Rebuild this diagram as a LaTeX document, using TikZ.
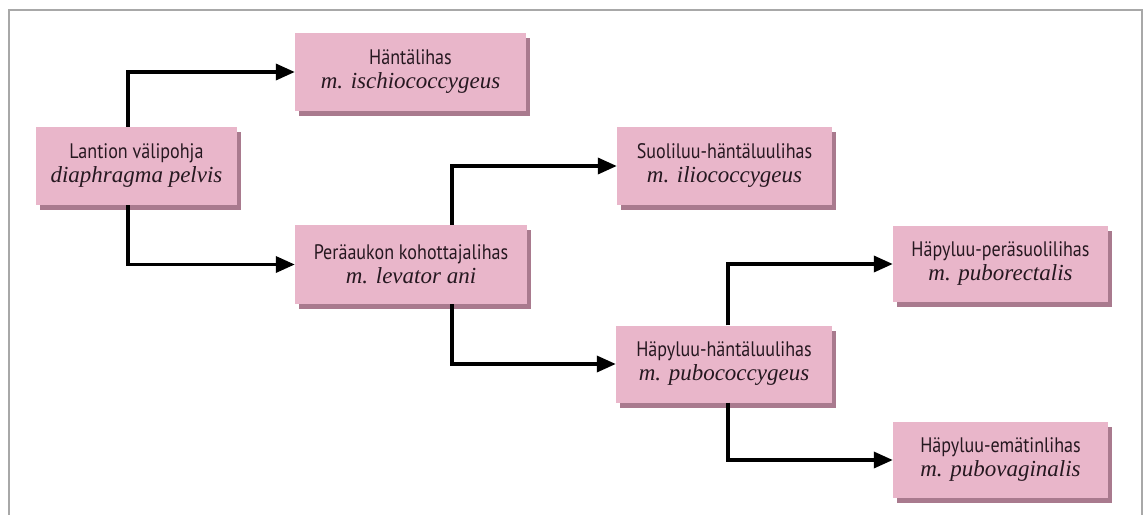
\documentclass[tikz,border=0pt]{standalone}
\usepackage{fontspec}
\usetikzlibrary{arrows.meta,shadows}
\newfontfamily\labsans[FakeStretch=0.86]{PT Sans}
\newfontfamily\labserif{Liberation Serif}
\definecolor{boxpink}{HTML}{E9B6CA}
\definecolor{boxshadow}{HTML}{A97A8E}
\definecolor{txtc}{HTML}{261820}
\definecolor{framec}{HTML}{A8A8A8}
\tikzset{
  musclebox/.style={draw=none, fill=boxpink, align=center, inner sep=0pt,
    text=txtc, font=\fontsize{21}{24}\selectfont,
    drop shadow={shadow xshift=4pt, shadow yshift=-5pt, fill=boxshadow, opacity=1}},
  conn/.style={line width=3.5pt, draw=black, -{Triangle[length=19pt,width=16pt]}}
}
\newcommand{\mlab}[2]{{\labsans #1}\\{\labserif\itshape\fontsize{23}{24}\selectfont #2}}
\begin{document}
\begin{tikzpicture}[x=1pt,y=-1pt]
\useasboundingbox (0,0) rectangle (1147,514);
\draw[framec, line width=1.5pt] (9,520) -- (9,10) -- (1142,10) -- (1142,520);
\node[musclebox, minimum width=231pt, minimum height=78pt] (hant) at (410.5,72) {\mlab{Häntälihas}{m. ischiococcygeus}};
\node[musclebox, minimum width=201pt, minimum height=78pt] (lant) at (136.5,166) {\mlab{Lantion välipohja}{diaphragma pelvis}};
\node[musclebox, minimum width=232pt, minimum height=79pt] (pera) at (411,264.5) {\mlab{Peräaukon kohottajalihas}{m. levator ani}};
\node[musclebox, minimum width=215pt, minimum height=78pt] (suol) at (724.5,166) {\mlab{Suoliluu-häntäluulihas}{m. iliococcygeus}};
\node[musclebox, minimum width=216pt, minimum height=77pt] (hpc) at (724,364) {\mlab{Häpyluu-häntäluulihas}{m. pubococcygeus}};
\node[musclebox, minimum width=215pt, minimum height=76pt] (hpr) at (1000.5,264) {\mlab{Häpyluu-peräsuolilihas}{m. puborectalis}};
\node[musclebox, minimum width=215pt, minimum height=76pt] (hpv) at (1000.5,460) {\mlab{Häpyluu-emätinlihas}{m. pubovaginalis}};
\coordinate (lx) at (128,0);
\coordinate (px) at (452,0);
\coordinate (hx) at (728,0);
\draw[conn] (lant.north -| lx) |- (hant.west);
\draw[conn] (lant.south -| lx) |- (pera.west);
\draw[conn] (pera.north -| px) |- (suol.west);
\draw[conn] (pera.south -| px) |- (hpc.west);
\draw[conn] (hpc.north -| hx) |- (hpr.west);
\draw[conn] (hpc.south -| hx) |- (hpv.west);
\end{tikzpicture}
\end{document}
